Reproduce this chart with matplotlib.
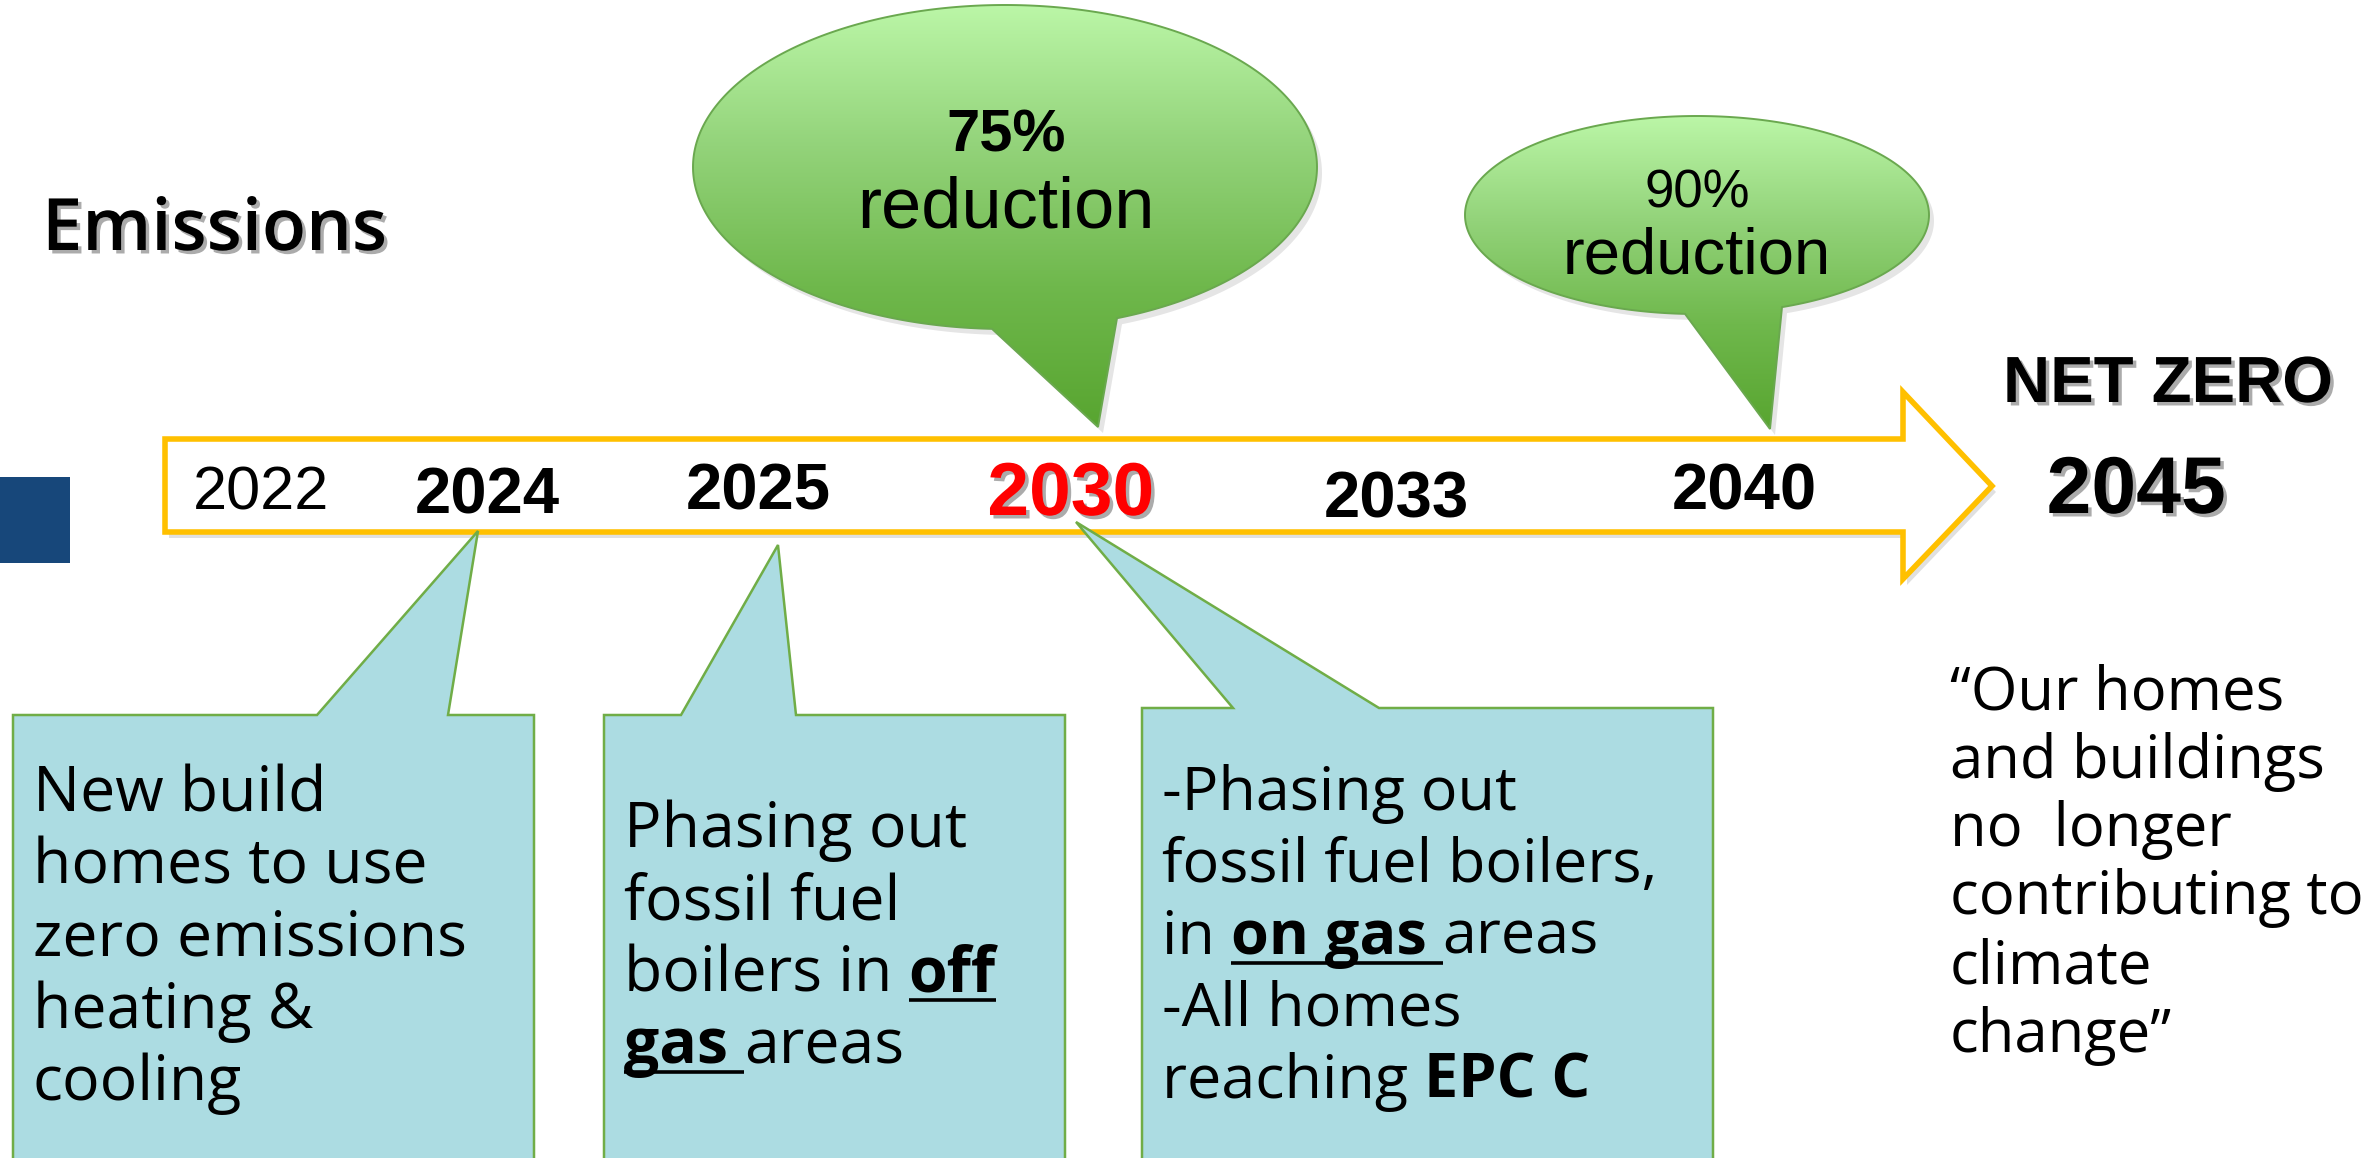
import numpy as np
import matplotlib
matplotlib.use("Agg")
import matplotlib.pyplot as plt
import matplotlib.patheffects as pe
from matplotlib.patches import Polygon, Rectangle
from matplotlib.colors import LinearSegmentedColormap
from matplotlib.font_manager import FontProperties

W, H, DPI = 2376, 1158, 100

# ---- content ----
section_title = "Emissions"
years = ["2022", "2024", "2025", "2030", "2033", "2040"]
goal_label = "NET ZERO"
goal_year = "2045"
cut_pcts = ["75%", "90%"]
cut_word = "reduction"

# callout texts: lines made of (text, style) runs; n = normal, b = bold, u = bold underlined
box_lines = [
    [[("New build", "n")], [("homes to use", "n")], [("zero emissions", "n")],
     [("heating &", "n")], [("cooling", "n")]],
    [[("Phasing out", "n")], [("fossil fuel", "n")],
     [("boilers in ", "n"), ("off", "u")], [("gas ", "u"), ("areas", "n")]],
    [[("-Phasing out", "n")], [("fossil fuel boilers,", "n")],
     [("in ", "n"), ("on gas ", "u"), ("areas", "n")], [("-All homes", "n")],
     [("reaching ", "n"), ("EPC C", "b")]],
]
quote_lines = ["\u201cOur homes", "and buildings", "no  longer",
               "contributing to", "climate", "change\u201d"]

# ---- layout (pixel units, y grows downwards) ----
BODY = ["Open Sans", "DejaVu Sans"]
HEAD = ["Liberation Sans", "DejaVu Sans"]

year_x = [261, 487, 758, 1071, 1396, 1744]
year_base = [509, 513, 510, 515, 517, 510]
year_size = [44, 47, 47, 54, 47, 47]
year_weight = ["normal", "bold", "bold", "bold", "bold", "bold"]
year_color = ["black", "black", "black", "#ff0000", "black", "black"]

box_left = [13, 604, 1142]
box_right = [534, 1065, 1713]
box_top = [715, 715, 708]
box_tail = [(317, 448, (478, 531)), (681, 796, (778, 545)), (1233, 1379, (1076, 522))]
box_text_x = [33, 624, 1162]
box_text_y = [812, 847, 810]
box_size = [45, 45, 44]

fig = plt.figure(figsize=(W / DPI, H / DPI), dpi=DPI)
ax = fig.add_axes([0, 0, 1, 1])
ax.axis("off")
renderer = fig.canvas.get_renderer()

shadow = [pe.withSimplePatchShadow(offset=(2.5, -2.5), shadow_rgbFace="0.45", alpha=0.6)]


def text_w(s, size, weight, family):
    fp = FontProperties(family=family, size=size, weight=weight)
    w1 = renderer.get_text_width_height_descent("|" + s + "|", fp, ismath=False)[0]
    w0 = renderer.get_text_width_height_descent("||", fp, ismath=False)[0]
    return w1 - w0


def draw_runs(x, y, runs, size):
    for txt, style in runs:
        weight = "normal" if style == "n" else "bold"
        ax.text(x, y, txt, fontsize=size, fontweight=weight, family=BODY,
                va="baseline", ha="left", zorder=6)
        w = text_w(txt, size, weight, BODY)
        if style == "u":
            uy = y + size * 0.2
            ax.plot([x, x + w], [uy, uy], color="black", lw=2.6, zorder=6,
                    solid_capstyle="butt")
        x += w


def bubble_verts(cx, cy, a, b, xl, xr, tip):
    tl = np.arccos(np.clip((xl - cx) / a, -1, 1))
    tr = np.arccos(np.clip((xr - cx) / a, -1, 1))
    t = np.linspace(tr, tl - 2 * np.pi, 400)
    pts = np.column_stack([cx + a * np.cos(t), cy + b * np.sin(t)])
    return np.vstack([pts, tip])


green = LinearSegmentedColormap.from_list("g", ["#bbf6a7", "#93d37a", "#6fb84c", "#58a530"])


def green_bubble(verts):
    ax.add_patch(Polygon(verts + [5, 6], closed=True, facecolor="black", alpha=0.10,
                         edgecolor="none", zorder=2))
    clip = Polygon(verts, closed=True, facecolor="none", edgecolor="none", zorder=3)
    ax.add_patch(clip)
    grad = np.linspace(0, 1, 256).reshape(-1, 1)
    im = ax.imshow(grad, cmap=green, aspect="auto", origin="upper", zorder=3,
                   extent=[verts[:, 0].min(), verts[:, 0].max(),
                           verts[:, 1].max(), verts[:, 1].min()])
    im.set_clip_path(clip)
    ax.add_patch(Polygon(verts, closed=True, fill=False, edgecolor="#6aa84f",
                         lw=1.4, zorder=4))


# blue marker on the left edge
ax.add_patch(Rectangle((0, 477), 70, 86, facecolor="#17477a", edgecolor="none", zorder=2))

# title
ax.text(42, 250, section_title, fontsize=52, fontweight="semibold", family=BODY,
        va="baseline", ha="left", path_effects=shadow, zorder=6)

# timeline arrow
arrow = np.array([[165, 439], [1903, 439], [1903, 392], [1992, 486],
                  [1903, 579], [1903, 532], [165, 532]])
ax.add_patch(Polygon(arrow + [4, 6], closed=True, facecolor="black", alpha=0.12,
                     edgecolor="none", zorder=1))
ax.add_patch(Polygon(arrow, closed=True, facecolor="white", edgecolor="#ffc000",
                     lw=4.0, joinstyle="miter", zorder=2))

for yr, x, y, s, wgt, c in zip(years, year_x, year_base, year_size, year_weight, year_color):
    ax.text(x, y, yr, fontsize=s, fontweight=wgt, color=c, family=HEAD,
            ha="center", va="baseline", zorder=6,
            path_effects=shadow if c != "black" else None)

# goal
ax.text(2168, 402, goal_label, fontsize=47, fontweight="bold", family=HEAD,
        ha="center", va="baseline", path_effects=shadow, zorder=6)
ax.text(2136, 513, goal_year, fontsize=58, fontweight="bold", family=HEAD,
        ha="center", va="baseline", path_effects=shadow, zorder=6)

# green bubbles
v1 = bubble_verts(1005, 167, 312, 162, 992, 1117, (1098, 427))
green_bubble(v1)
ax.text(1006, 152, cut_pcts[0], fontsize=43, fontweight="bold", family=HEAD,
        ha="center", va="baseline", zorder=6)
ax.text(1006, 227, cut_word, fontsize=52, family=HEAD, ha="center", va="baseline", zorder=6)

v2 = bubble_verts(1697, 215, 232, 99, 1685, 1782, (1770, 429))
green_bubble(v2)
ax.text(1697, 208, cut_pcts[1], fontsize=38, family=HEAD, ha="center", va="baseline", zorder=6)
ax.text(1697, 273, cut_word, fontsize=47, family=HEAD, ha="center", va="baseline", zorder=6)

# blue callout boxes
for i, lines in enumerate(box_lines):
    l, r, t = box_left[i], box_right[i], box_top[i]
    bl, br, tip = box_tail[i]
    poly = [(l, H + 20), (l, t), (bl, t), tip, (br, t), (r, t), (r, H + 20)]
    ax.add_patch(Polygon(poly, closed=True, facecolor="#acdce2", edgecolor="#70ad47",
                         lw=1.8, zorder=3))
    for j, runs in enumerate(lines):
        draw_runs(box_text_x[i], box_text_y[i] + 72 * j, runs, box_size[i])

# quote
for j, line in enumerate(quote_lines):
    ax.text(1950, 709 + 68.5 * j, line, fontsize=43, family=BODY,
            ha="left", va="baseline", zorder=6)

ax.set_xlim(0, W)
ax.set_ylim(H, 0)
fig.savefig("out.png", dpi=DPI, facecolor="white")
